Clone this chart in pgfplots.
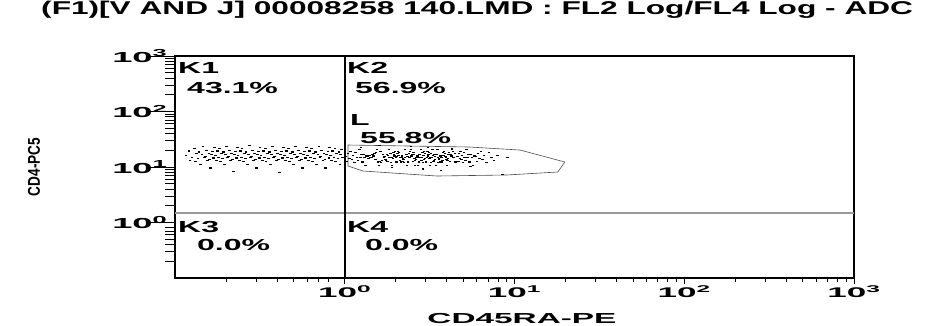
\documentclass[border=0pt]{standalone}
\usepackage{fontspec}
\setmainfont{Liberation Sans}
\newfontfamily\titlefont{Liberation Sans}[FakeStretch=1.71]
\newfontfamily\quadfont{Liberation Sans}[FakeStretch=2.0]
\newfontfamily\tickfont{Liberation Sans}[FakeStretch=2.5]
\newfontfamily\axlabfont{Liberation Sans}[FakeStretch=2.3]
\newfontfamily\ylabfont{Liberation Sans}[FakeStretch=0.8]
\usepackage{pgfplots}
\pgfplotsset{compat=1.18}

\newcommand{\dec}[1]{10\textsuperscript{#1}}

\begin{document}
\begin{tikzpicture}
\begin{axis}[
  scale only axis, width=679bp, height=222bp,
  xmode=log, ymode=log,
  xmin=0.1, xmax=1000, ymin=0.1, ymax=1000,
  axis line style={line width=1.6bp, black},
  tick align=outside,
  xtick pos=bottom, ytick pos=left,
  xtick={1,10,100,1000},
  xticklabels={\dec{0},\dec{1},\dec{2},\dec{3}},
  ytick={1,10,100,1000},
  yticklabels={\dec{0},\dec{1},\dec{2},\dec{3}},
  minor xtick={0.2,0.3,...,0.9,2,3,...,9,20,30,...,90,200,300,...,900},
  minor ytick={0.2,0.3,...,0.9,2,3,...,9,20,30,...,90,200,300,...,900},
  xtick style={line width=0.9bp, black, /pgfplots/major tick length=6bp, /pgfplots/minor tick length=4bp},
  ytick style={line width=0.9bp, black, /pgfplots/major tick length=25bp, /pgfplots/minor tick length=10bp},
  xticklabel style={font=\tickfont\bfseries\fontsize{14bp}{16bp}\selectfont},
  yticklabel style={font=\tickfont\bfseries\fontsize{14.5bp}{16bp}\selectfont},
  title={(F1)[V AND J] 00008258 140.LMD : FL2 Log/FL4 Log - ADC},
  title style={at={(axis description cs:0.445,1.158)}, anchor=base,
    font=\titlefont\bfseries\fontsize{18.5bp}{20bp}\selectfont},
  xlabel={CD45RA-PE},
  xlabel style={at={(axis description cs:0.511,-0.203)}, anchor=base,
    font=\axlabfont\bfseries\fontsize{14.5bp}{16bp}\selectfont},
  ylabel={\ylabfont\bfseries\fontsize{17bp}{19bp}\selectfont CD4-PC5},
  ylabel style={at={(axis description cs:-0.2077,0.5)}, anchor=center},
  clip=false,
]
% quadrant markers
\addplot[gray!80, line width=1.2bp] coordinates {(0.1,1.48) (1000,1.48)};
\addplot[black, line width=1.8bp] coordinates {(1,0.1) (1,1000)};

% gate L
\addplot[black!70, line width=0.6bp] coordinates {
 (1.045,24.9) (5.47,22.9) (10.8,20.2) (19.8,12.3) (18.0,8.13)
 (9.04,7.18) (3.49,6.88) (1.28,8.47) (1.045,10.4)} -- cycle;

% events, CD45RA negative
\addplot[only marks, mark=-, mark size=1.2bp, mark options={line width=1.1bp, black}] coordinates {
(0.116,16.2) (0.121,19.4) (0.123,13.1) (0.126,15.0) (0.130,21.7)
(0.132,12.4) (0.134,17.3) (0.137,14.2) (0.139,18.6)
(0.141,11.2) (0.144,16.9) (0.146,23.5) (0.149,14.8)
(0.151,15.7) (0.153,20.1) (0.155,12.9) (0.158,17.8) (0.160,13.6)
(0.162,9.6) (0.164,16.5) (0.166,18.9) (0.169,14.5) (0.171,22.4)
(0.173,16.2) (0.176,13.1) (0.178,19.4) (0.180,15.0) (0.183,21.7)
(0.185,12.4) (0.188,17.3) (0.190,14.2) (0.193,18.6) (0.196,11.2)
(0.198,16.9) (0.201,23.5) (0.204,14.8) (0.207,15.7) (0.210,20.1)
(0.212,12.9) (0.215,17.8) (0.218,13.6) (0.221,8.4) (0.224,16.5)
(0.227,18.9) (0.230,14.5) (0.233,22.4) (0.236,16.2) (0.240,13.1)
(0.243,19.4) (0.246,15.0) (0.249,21.7) (0.253,12.4) (0.257,17.3)
(0.260,14.2) (0.263,18.6) (0.267,11.2) (0.271,16.9) (0.275,24.1)
(0.278,14.8) (0.282,15.7) (0.286,20.1) (0.290,12.9) (0.294,17.8)
(0.298,13.6) (0.302,9.6) (0.306,16.5) (0.311,18.9) (0.315,14.5)
(0.318,22.4) (0.322,16.2) (0.327,13.1) (0.332,19.4) (0.337,15.0)
(0.341,21.7) (0.345,12.4) (0.350,17.3) (0.355,14.2) (0.360,18.6)
(0.365,11.2) (0.370,16.9) (0.375,23.5) (0.380,14.8) (0.386,15.7)
(0.391,20.1) (0.396,12.9) (0.402,17.8) (0.408,13.6) (0.413,7.9)
(0.418,16.5) (0.424,18.9) (0.430,14.5) (0.436,22.4) (0.442,16.2)
(0.447,13.1) (0.453,19.4) (0.460,15.0) (0.466,21.7) (0.473,12.4)
(0.479,17.3) (0.486,14.2) (0.493,18.6) (0.499,11.2) (0.506,16.9)
(0.513,23.5) (0.520,14.8) (0.528,15.7) (0.535,20.1) (0.542,12.9)
(0.549,17.8) (0.557,13.6) (0.565,9.6) (0.573,16.5) (0.580,18.9)
(0.588,14.5) (0.596,22.4) (0.604,16.2) (0.613,13.1) (0.621,19.4)
(0.629,15.0) (0.638,21.7) (0.647,12.4) (0.656,17.3) (0.665,14.2)
(0.673,18.6) (0.683,11.2) (0.693,16.9) (0.703,23.5) (0.712,14.8)
(0.721,15.7) (0.731,20.1) (0.742,12.9) (0.752,17.8) (0.762,13.6)
(0.771,9.6) (0.782,16.5) (0.794,18.9) (0.805,14.5) (0.815,22.4)
(0.825,16.2) (0.837,13.1) (0.849,19.4) (0.861,15.0) (0.873,21.7)
(0.883,12.4) (0.896,17.3) (0.909,14.2) (0.922,18.6) (0.934,11.2)
(0.944,16.9) (0.957,20.5) (0.970,14.8)
};

% events, CD45RA positive
\addplot[only marks, mark=-, mark size=1.2bp, mark options={line width=1.1bp, black}] coordinates {
(1.016,15.4) (1.032,12.8) (1.049,17.6) (1.066,14.1) (1.083,19.3) (1.101,13.5) (1.120,16.2) (1.140,11.9) (1.159,18.1) (1.179,15.0)
(1.199,13.2) (1.220,20.4) (1.239,14.6) (1.256,16.8) (1.273,12.3) (1.290,17.1) (1.307,14.9) (1.325,10.6) (1.344,15.8)
(1.362,15.4) (1.381,14.1) (1.399,16.2) (1.419,15.0) (1.438,14.6) (1.458,17.1) (1.478,15.8) (1.497,17.6) (1.516,13.5) (1.534,18.1)
(1.551,20.4) (1.569,12.3) (1.587,10.6) (1.604,12.8) (1.622,19.3) (1.641,11.9) (1.660,13.2) (1.679,16.8) (1.698,14.9)
(1.717,15.4) (1.735,13.5) (1.752,13.2) (1.770,17.1) (1.787,12.8) (1.805,16.2) (1.822,20.4) (1.839,14.9) (1.856,17.6) (1.872,11.9)
(1.888,14.6) (1.904,10.6) (1.920,14.1) (1.936,18.1) (1.952,16.8) (1.968,15.8) (1.985,19.3) (2.001,15.0) (2.016,12.3)
(2.032,15.4) (2.047,17.6) (2.062,19.3) (2.078,16.2) (2.093,18.1) (2.108,13.2) (2.124,14.6) (2.141,12.3) (2.157,14.9) (2.174,15.8)
(2.190,12.8) (2.207,14.1) (2.223,13.5) (2.240,11.9) (2.256,15.0) (2.273,20.4) (2.289,16.8) (2.305,17.1) (2.321,10.6)
(2.337,15.4) (2.352,11.9) (2.368,12.3) (2.384,17.6) (2.400,15.0) (2.416,14.9) (2.433,19.3) (2.450,20.4) (2.467,15.8) (2.484,16.2)
(2.501,16.8) (2.518,12.8) (2.535,18.1) (2.552,17.1) (2.569,14.1) (2.586,13.2) (2.603,10.6) (2.621,13.5) (2.639,14.6)
(2.658,15.4) (2.676,15.8) (2.694,10.6) (2.712,14.9) (2.730,17.1) (2.749,12.3) (2.767,16.8) (2.786,14.6) (2.805,20.4) (2.825,13.2)
(2.844,15.0) (2.864,18.1) (2.883,11.9) (2.903,16.2) (2.922,13.5) (2.942,19.3) (2.961,14.1) (2.981,17.6) (3.002,12.8)
(3.023,12.3) (3.044,15.0) (3.065,19.3) (3.086,15.8) (3.107,16.8) (3.128,18.1) (3.149,14.1) (3.170,10.6) (3.191,14.6) (3.213,11.9)
(3.235,17.6) (3.258,14.9) (3.280,20.4) (3.302,16.2) (3.325,12.8) (3.347,17.1) (3.369,13.2) (3.392,13.5) (3.415,15.4)
(3.439,10.6) (3.463,17.1) (3.487,16.8) (3.511,20.4) (3.534,15.0) (3.558,11.9) (3.582,13.5) (3.606,14.1) (3.630,12.8) (3.656,15.8)
(3.684,14.9) (3.713,12.3) (3.741,14.6) (3.770,13.2) (3.798,18.1) (3.827,16.2) (3.855,19.3) (3.884,17.6) (3.913,15.4)
(3.943,14.6) (3.974,13.5) (4.004,10.6) (4.035,13.2) (4.065,14.1) (4.095,17.1) (4.126,18.1) (4.156,12.8) (4.189,16.8) (4.226,16.2)
(4.262,15.8) (4.299,20.4) (4.336,19.3) (4.372,14.9) (4.409,15.0) (4.446,17.6) (4.486,12.3) (4.531,11.9) (4.576,15.4)
(4.621,15.4) (4.666,12.8) (4.711,17.6) (4.756,14.1) (4.806,19.3) (4.862,13.5) (4.918,16.2) (4.974,11.9) (5.030,18.1) (5.085,15.0)
(5.149,13.2) (5.221,20.4) (5.292,14.6) (5.364,16.8) (5.436,12.3) (5.520,17.1) (5.616,14.9) (5.712,10.6) (5.808,15.8)
(5.907,15.4) (6.010,12.8) (6.113,17.6) (6.216,14.1) (6.340,19.3) (6.487,13.5) (6.634,16.2) (6.825,11.9) (7.060,18.1) (7.304,15.0)
(7.556,13.2) (7.95,16.4) (8.5,7.3) (9.1,14.6)
(1.25,22.5) (1.6,24.0) (2.45,23.0) (3.1,22.1) (4.3,21.8) (1.9,9.8) (2.9,9.2) (3.7,8.6) (5.5,10.1)
};

% quadrant names and percentages
\begin{scope}[every node/.style={anchor=base west, inner sep=0pt,
    font=\quadfont\bfseries\fontsize{16bp}{18bp}\selectfont}]
\node at (rel axis cs:0.0044,0.919) {K1};
\node at (rel axis cs:0.0177,0.833) {43.1\%};
\node at (rel axis cs:0.2533,0.919) {K2};
\node at (rel axis cs:0.2651,0.833) {56.9\%};
\node at (rel axis cs:0.2577,0.689) {L};
\node at (rel axis cs:0.2725,0.608) {55.8\%};
\node at (rel axis cs:0.0044,0.207) {K3};
\node at (rel axis cs:0.0324,0.122) {0.0\%};
\node at (rel axis cs:0.2533,0.207) {K4};
\node at (rel axis cs:0.2798,0.122) {0.0\%};
\end{scope}

\coordinate (bl) at (rel axis cs:0,0);
\coordinate (tr) at (rel axis cs:1,1);
\end{axis}
\pgfresetboundingbox
\path ([shift={(-175bp,-47bp)}]bl) rectangle ([shift={(71bp,56bp)}]tr);
\end{tikzpicture}
\end{document}
